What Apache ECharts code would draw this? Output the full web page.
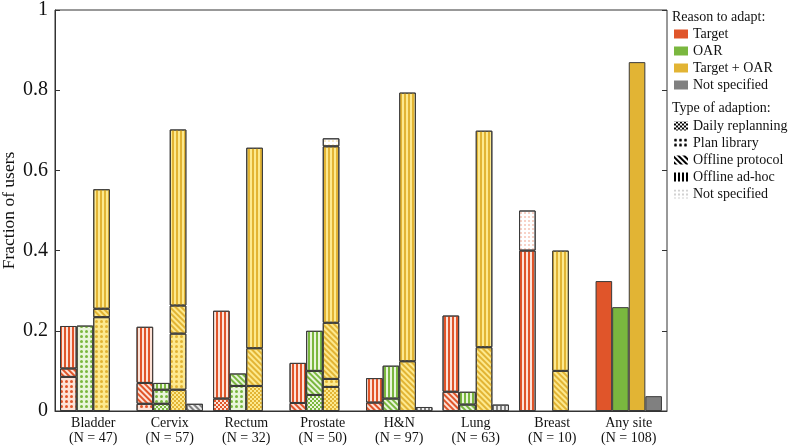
<!DOCTYPE html>
<html>
<head>
<meta charset="utf-8">
<script src="https://cdn.jsdelivr.net/npm/echarts@6/dist/echarts.min.js"></script>
<style>
  html, body { margin: 0; padding: 0; background: #fff; }
  #chart { width: 789px; height: 447px; }
</style>
</head>
<body>
<div id="chart"></div>
<script>
const categories = ['Bladder\n(N = 47)', 'Cervix\n(N = 57)', 'Rectum\n(N = 32)', 'Prostate\n(N = 50)',
  'H&N\n(N = 97)', 'Lung\n(N = 63)', 'Breast\n(N = 10)', 'Any site\n(N = 108)']

// segment heights (fraction of users), bottom to top within each bar
// Target
const targetDaily    = [null, null, 0.031, null, null, null, null, null]
const targetLibrary  = [0.085, 0.018, null, null, null, null, null, null]
const targetProtocol = [0.021, 0.052, null, 0.02, 0.021, 0.048, null, null]
const targetAdhoc    = [0.106, 0.140, 0.219, 0.10, 0.061, 0.190, 0.4, null]
const targetNs       = [null, null, null, null, null, null, 0.1, null]
const targetAll      = [null, null, null, null, null, null, null, 0.324]
// OAR
const oarDaily    = [null, 0.018, null, 0.04, null, null, null, null]
const oarLibrary  = [0.213, 0.035, 0.0625, null, null, null, null, null]
const oarProtocol = [null, null, 0.031, 0.06, 0.031, 0.016, null, null]
const oarAdhoc    = [null, 0.017, null, 0.10, 0.082, 0.032, null, null]
const oarNs       = [null, null, null, null, null, null, null, null]
const oarAll      = [null, null, null, null, null, null, null, 0.259]
// Target + OAR
const bothDaily    = [null, 0.053, 0.0625, 0.06, null, null, null, null]
const bothLibrary  = [0.234, 0.140, null, 0.02, null, null, null, null]
const bothProtocol = [0.021, 0.070, 0.094, 0.14, 0.124, 0.159, 0.1, null]
const bothAdhoc    = [0.298, 0.439, 0.500, 0.44, 0.670, 0.540, 0.3, null]
const bothNs       = [null, null, null, 0.02, null, null, null, null]
const bothAll      = [null, null, null, null, null, null, null, 0.870]
// Not specified
const nsDaily    = [null, null, null, null, null, null, null, null]
const nsLibrary  = [null, null, null, null, null, null, null, null]
const nsProtocol = [null, 0.018, null, null, null, null, null, null]
const nsAdhoc    = [null, null, null, null, 0.010, 0.016, null, null]
const nsNs       = [null, null, null, null, null, null, null, null]
const nsAll      = [null, null, null, null, null, null, null, 0.037]

const reasons = [
  { name: 'Target', main: '#e0552a', light: '#fde3d8', rows: [targetDaily, targetLibrary, targetProtocol, targetAdhoc, targetNs, targetAll] },
  { name: 'OAR', main: '#7ab73f', light: '#eaf5dc', rows: [oarDaily, oarLibrary, oarProtocol, oarAdhoc, oarNs, oarAll] },
  { name: 'Target + OAR', main: '#e2b434', light: '#fde98e', rows: [bothDaily, bothLibrary, bothProtocol, bothAdhoc, bothNs, bothAll] },
  { name: 'Not specified', main: '#808080', light: '#eeeeee', rows: [nsDaily, nsLibrary, nsProtocol, nsAdhoc, nsNs, nsAll] },
]
const types = ['Daily replanning', 'Plan library', 'Offline protocol', 'Offline ad-hoc', 'Not specified ']

const FONT = '"Liberation Serif", "DejaVu Serif", serif'

function decalFor(i, color) {
  switch (i) {
    case 0: return { symbol: 'rect', symbolSize: 1, color, dashArrayX: [[2, 2], [0, 2, 2, 0]], dashArrayY: [2, 0] }
    case 1: return { symbol: 'circle', symbolSize: 1, color, dashArrayX: [3, 2], dashArrayY: [3, 2] }
    case 2: return { symbol: 'rect', symbolSize: 1, color, dashArrayX: [1, 0], dashArrayY: [1.5, 1.5], rotation: Math.PI / 4 }
    case 3: return { symbol: 'rect', symbolSize: 1, color, dashArrayX: [2, 2], dashArrayY: [1, 0] }
    default: return { symbol: 'circle', symbolSize: 0.8, color, dashArrayX: [1.5, 2], dashArrayY: [1.5, 2] }
  }
}

const series = []
reasons.forEach((r) => {
  r.rows.forEach((row, i) => {
    const solid = i === 5
    series.push({
      type: 'bar',
      stack: r.name,
      name: r.name + '-' + i,
      data: row,
      barWidth: 16.6,
      barGap: '0%',
      itemStyle: {
        color: solid ? r.main : (i === 4 ? '#ffffff' : r.light),
        borderColor: '#3a3a3a',
        borderWidth: 1,
        decal: solid ? null : decalFor(i, i === 4 ? r.main + '99' : r.main),
      },
      emphasis: { disabled: true },
    })
  })
})

// legend-only series, on hidden axes so they take no bar slot
reasons.forEach((r) => {
  series.push({ type: 'bar', name: r.name, xAxisIndex: 3, yAxisIndex: 2, data: [], itemStyle: { color: r.main } })
})
types.forEach((t, i) => {
  series.push({ type: 'bar', name: t, xAxisIndex: 3, yAxisIndex: 2, data: [],
    itemStyle: { color: '#ffffff', decal: decalFor(i, i === 4 ? '#999999' : '#000000') } })
})

const slots = categories.flatMap((c) => [c + 'a', c + 'b', c + 'c', c + 'd'])

const chart = echarts.init(document.getElementById('chart'), null, { renderer: 'canvas' })
chart.setOption({
  animation: false,
  backgroundColor: '#fff',
  grid: { left: 55, right: 122, top: 10, bottom: 36, show: true, borderColor: '#333', borderWidth: 1,
    containLabel: false, outerBoundsMode: 'none' },
  title: [
    { text: 'Reason to adapt:', left: 672, top: 10, textStyle: { fontFamily: FONT, fontSize: 14, fontWeight: 'normal', color: '#111' }, padding: 0 },
    { text: 'Type of adaption:', left: 672, top: 101, textStyle: { fontFamily: FONT, fontSize: 14, fontWeight: 'normal', color: '#111' }, padding: 0 },
  ],
  legend: [
    {
      data: reasons.map((r) => r.name),
      orient: 'vertical', left: 674, top: 27, padding: 0,
      itemWidth: 14, itemHeight: 9, itemGap: 3, icon: 'rect', selectedMode: false,
      itemStyle: { borderWidth: 0 },
      textStyle: { fontFamily: FONT, fontSize: 14, color: '#111' },
    },
    {
      data: types,
      orient: 'vertical', left: 674, top: 119, padding: 0,
      itemWidth: 14, itemHeight: 9, itemGap: 3, icon: 'rect', selectedMode: false,
      itemStyle: { borderWidth: 0 },
      textStyle: { fontFamily: FONT, fontSize: 14, color: '#111' },
    },
  ],
  xAxis: [
    {
      type: 'category', data: categories, position: 'bottom',
      axisLine: { lineStyle: { color: '#333' } },
      axisTick: { show: false },
      axisLabel: { fontFamily: FONT, fontSize: 14, lineHeight: 15, color: '#111', margin: 5, interval: 0 },
    },
    {
      type: 'category', data: slots, position: 'bottom',
      axisLine: { show: false }, axisLabel: { show: false },
      axisTick: { inside: true, alignWithLabel: true, length: 4, lineStyle: { color: '#333' } },
    },
    {
      type: 'category', data: slots, position: 'top',
      axisLine: { show: false }, axisLabel: { show: false },
      axisTick: { inside: true, alignWithLabel: true, length: 4, lineStyle: { color: '#333' } },
    },
    { type: 'category', data: ['x'], show: false },
  ],
  yAxis: [
    {
      type: 'value', min: 0, max: 1, interval: 0.2,
      name: 'Fraction of users', nameLocation: 'middle', nameGap: 37, nameMoveOverlap: false,
      nameTextStyle: { fontFamily: FONT, fontSize: 17.5, color: '#111' },
      axisLine: { show: true, lineStyle: { color: '#333' } },
      axisTick: { show: true, inside: true, length: 5, lineStyle: { color: '#333' } },
      axisLabel: { fontFamily: FONT, fontSize: 20, color: '#111', margin: 7 },
      splitLine: { show: false },
    },
    {
      type: 'value', min: 0, max: 1, interval: 0.2, position: 'right',
      axisLine: { show: false }, axisLabel: { show: false },
      axisTick: { show: true, inside: true, length: 5, lineStyle: { color: '#333' } },
      splitLine: { show: false },
    },
    { type: 'value', show: false },
  ],
  series,
})
</script>
</body>
</html>
